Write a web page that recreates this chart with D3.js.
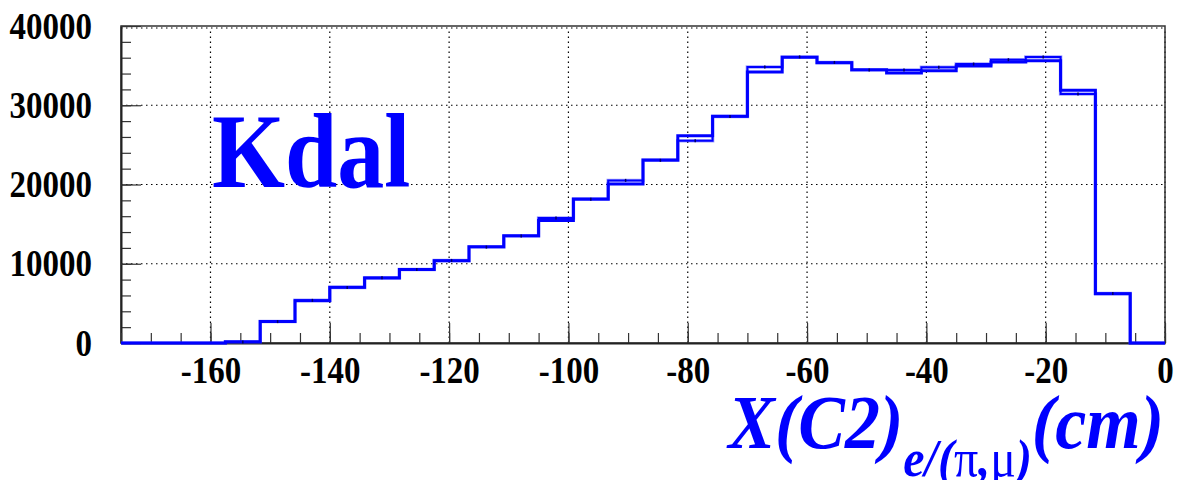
<!DOCTYPE html>
<html>
<head>
<meta charset="utf-8">
<script src="https://cdn.jsdelivr.net/npm/d3@7"></script>
<style>
  body { margin: 0; background: #fff; }
  svg { display: block; }
</style>
</head>
<body>
<svg width="1178" height="480"></svg>
<script>
// histogram binning
const xMin = -175, xMax = 0, nBins = 30;

// counts per bin (left to right), two overlaid histograms
const countsA = [0, 0, 0, 150, 2725, 5340, 7020, 8200, 9290, 10390,
                 12150, 13540, 15470, 18170, 20060, 23100, 26160, 28600, 34200, 36070,
                 35370, 34490, 34070, 34360, 34950, 35460, 35620, 31880, 6220, 0];
const countsB = [0, 0, 0, 130, 2700, 5380, 7000, 8230, 9260, 10420,
                 12100, 13500, 15770, 18150, 20520, 23050, 25530, 28580, 34830, 36100,
                 35400, 34460, 34450, 34780, 35200, 35750, 36090, 31420, 6250, 0];

const xMajor = [-160, -140, -120, -100, -80, -60, -40, -20, 0];
const xMinor = d3.range(-175, 0.1, 5);
const yMajor = [0, 10000, 20000, 30000, 40000];
const yMinor = d3.range(0, 40001, 2000);

function main() {
    let svg = d3.select('svg'),
        margin = { top: 26, bottom: 137, left: 121, right: 13 },
        width = svg.attr('width') - margin.left - margin.right,
        height = svg.attr('height') - margin.top - margin.bottom;

    const stretch = 1.12; // the original canvas is drawn a bit tall

    let x = d3.scaleLinear().domain([xMin, xMax]).range([margin.left, margin.left + width]),
        y = d3.scaleLinear().domain([0, 40000]).range([margin.top + height, margin.top]);

    const binW = (xMax - xMin) / nBins;
    const edges = d3.range(nBins + 1).map(i => xMin + i * binW);

    //Grid
    let grid = svg.append('g').attr('stroke', '#000').attr('stroke-width', 1.2)
        .attr('stroke-dasharray', '1.5,3.5');
    grid.selectAll('.gx').data(xMajor).enter().append('line')
        .attr('x1', d => x(d)).attr('x2', d => x(d))
        .attr('y1', y(0)).attr('y2', y(40000) + 2);
    grid.selectAll('.gy').data(yMajor.slice(1)).enter().append('line')
        .attr('x1', x(xMin)).attr('x2', x(xMax))
        .attr('y1', d => y(d) + (d === 40000 ? 2 : 0)).attr('y2', d => y(d) + (d === 40000 ? 2 : 0));

    //Frame
    svg.append('rect')
        .attr('x', margin.left).attr('y', margin.top)
        .attr('width', width).attr('height', height)
        .attr('fill', 'none').attr('stroke', '#333').attr('stroke-width', 1.5);

    //Y Axis
    svg.append('g')
        .attr('transform', 'translate(' + margin.left + ',0)')
        .call(d3.axisLeft(y).tickValues(yMinor).tickSize(-10).tickFormat(''))
        .call(g => g.select('.domain').remove())
        .selectAll('line').attr('stroke', '#333').attr('stroke-width', 1.2);
    let yAxis = svg.append('g')
        .attr('transform', 'translate(' + margin.left + ',0)')
        .call(d3.axisLeft(y).tickValues(yMajor).tickSizeInner(-20).tickSizeOuter(0).tickPadding(29).tickFormat(d3.format('d')));
    yAxis.select('.domain').attr('stroke', '#222').attr('stroke-width', 2);
    yAxis.selectAll('line').attr('stroke', '#333').attr('stroke-width', 1.2);
    yAxis.selectAll('text')
        .attr('font-family', '"Liberation Serif", "Times New Roman", serif')
        .attr('font-weight', 'bold').attr('font-size', 33).attr('fill', '#000')
        .attr('dy', '0.33em')
        .attr('transform', 'scale(1,' + stretch + ')');

    //X Axis
    svg.append('g')
        .attr('transform', 'translate(0,' + (margin.top + height) + ')')
        .call(d3.axisBottom(x).tickValues(xMinor).tickSize(-10).tickFormat(''))
        .call(g => g.select('.domain').remove())
        .selectAll('line').attr('stroke', '#333').attr('stroke-width', 1.2);
    let xAxis = svg.append('g')
        .attr('transform', 'translate(0,' + (margin.top + height) + ')')
        .call(d3.axisBottom(x).tickValues(xMajor).tickSizeInner(-20).tickSizeOuter(0).tickPadding(0).tickFormat(d3.format('d')));
    xAxis.select('.domain').attr('stroke', '#222').attr('stroke-width', 2);
    xAxis.selectAll('line').attr('stroke', '#333').attr('stroke-width', 1.2);
    xAxis.selectAll('text')
        .attr('font-family', '"Liberation Serif", "Times New Roman", serif')
        .attr('font-weight', 'bold').attr('font-size', 33).attr('fill', '#000')
        .attr('y', 36).attr('dy', 0)
        .attr('transform', 'scale(1,' + stretch + ')')
        .text(d => d3.format('d')(d).replace('\u2212', '-'));

    //Histograms
    let step = d3.line().x(d => x(d[0])).y(d => y(d[1])).curve(d3.curveStepAfter);
    function pts(counts) {
        let p = counts.map((c, i) => [edges[i], c]);
        p.push([edges[nBins], counts[nBins - 1]]);
        return p;
    }
    svg.append('path').datum(pts(countsB))
        .attr('d', step).attr('fill', 'none')
        .attr('stroke', '#4d4dff').attr('stroke-width', 3.5).attr('opacity', 0.5);
    svg.append('path').datum(pts(countsA))
        .attr('d', step).attr('fill', 'none')
        .attr('stroke', '#0000ff').attr('stroke-width', 3);
    svg.append('path').datum(pts(countsB))
        .attr('d', step).attr('fill', 'none')
        .attr('stroke', '#0000ff').attr('stroke-width', 2);
    // small error markers at bin centres
    svg.selectAll('.err').data(countsB).enter().append('line')
        .attr('x1', (d, i) => x(edges[i] + binW / 2)).attr('x2', (d, i) => x(edges[i] + binW / 2))
        .attr('y1', d => y(d) - 1.5).attr('y2', d => y(d) + 1.5)
        .attr('stroke', '#000066').attr('stroke-width', 1.5)
        .style('display', d => d > 0 ? null : 'none');

    //Label
    svg.append('text')
        .attr('transform', 'translate(212,187) scale(1,' + stretch + ')')
        .attr('font-family', '"Liberation Serif", "Times New Roman", serif')
        .attr('font-weight', 'bold').attr('font-size', 94).attr('fill', '#0000ff')
        .text('Kdal');

    //Axis title
    let title = svg.append('text')
        .attr('transform', 'translate(1164,448) scale(1,1.1)')
        .attr('text-anchor', 'end')
        .attr('font-family', '"Liberation Serif", "Times New Roman", serif')
        .attr('font-weight', 'bold').attr('font-style', 'italic')
        .attr('font-size', 70).attr('fill', '#0000ff');
    title.append('tspan').text('X(C2)');
    title.append('tspan').attr('font-size', 48).attr('dy', 25).text('e/(');
    title.append('tspan').attr('font-size', 48).attr('font-style', 'normal').attr('font-weight', 'normal').text('\u03c0');
    title.append('tspan').attr('font-size', 48).text(',');
    title.append('tspan').attr('font-size', 48).attr('font-style', 'normal').attr('font-weight', 'normal').text('\u03bc');
    title.append('tspan').attr('font-size', 48).text(')');
    title.append('tspan').attr('dy', -25).text('(cm)');
}

main();
</script>
</body>
</html>
